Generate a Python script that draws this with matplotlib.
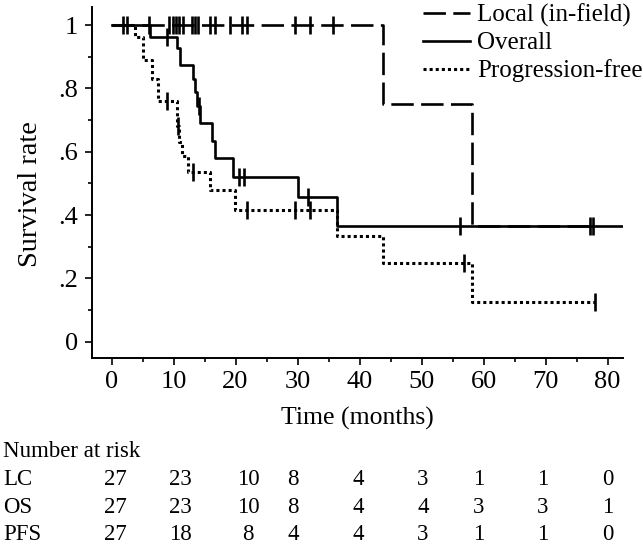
import numpy as np
import matplotlib
matplotlib.use("Agg")
import matplotlib.pyplot as plt
from matplotlib.ticker import MultipleLocator, FixedLocator, FixedFormatter

plt.rcParams['font.family'] = ['Liberation Serif', 'DejaVu Serif']

# ---------------- data ----------------
# Local (in-field) control
lc_times = [0, 43.8, 58.1, 77.7]
lc_surv = [1.0, 0.75, 0.366, 0.366]
lc_censor = [1.9, 2.5, 6.1, 9.2, 9.9, 10.4, 10.9, 11.5, 12.9, 13.5, 14.0,
             15.9, 16.7, 19.1, 21.0, 21.8, 29.6, 32.0, 35.8]

# Overall survival
os_times = [0, 6.2, 10.5, 11.0, 13.2, 13.5, 13.8, 14.3, 16.2, 16.7, 19.6,
            30.1, 36.3, 82.3]
os_surv = [1.0, 0.963, 0.926, 0.874, 0.83, 0.79, 0.745, 0.69, 0.635, 0.579,
           0.52, 0.458, 0.366, 0.366]
os_censor = [8.9, 14.1, 20.5, 21.3, 31.7, 56.2, 77.1, 77.7]

# Progression-free survival
pfs_times = [0, 3.8, 5.1, 6.5, 7.5, 10.5, 10.9, 11.3, 12.4, 15.9, 19.9,
             36.3, 43.8, 58.1, 78.0]
pfs_surv = [1.0, 0.963, 0.889, 0.83, 0.76, 0.68, 0.63, 0.586, 0.537, 0.479,
            0.417, 0.333, 0.25, 0.125, 0.125]
pfs_censor = [8.9, 10.8, 13.2, 21.8, 29.6, 32.0, 56.9, 78.0]

series_labels = ["Local (in-field)", "Overall", "Progression-free"]

x_ticks = [0, 10, 20, 30, 40, 50, 60, 70, 80]
y_ticks = [0, 0.2, 0.4, 0.6, 0.8, 1.0]
y_tick_labels = ["0", ".2", ".4", ".6", ".8", "1"]

risk_title = "Number at risk"
risk_rows = ["LC", "OS", "PFS"]
risk_lc = [27, 23, 10, 8, 4, 3, 1, 1, 0]
risk_os = [27, 23, 10, 8, 4, 4, 3, 3, 1]
risk_pfs = [27, 18, 8, 4, 4, 3, 1, 1, 0]

# ---------------- figure ----------------
W, H = 643, 545
fig = plt.figure(figsize=(W / 100, H / 100), dpi=100)
ax_l, ax_r, ax_t, ax_b = 92, 623, 6.7, 358
ax = fig.add_axes([ax_l / W, 1 - ax_b / H, (ax_r - ax_l) / W, (ax_b - ax_t) / H])

lw = 1.9


def surv_at(times, surv, t):
    idx = np.searchsorted(times, t, side='right') - 1
    return np.array(surv)[idx]


# curves
ax.step(lc_times, lc_surv, where='post', color='black', lw=lw,
        linestyle=(0, (8.5, 2.8)), label=series_labels[0], zorder=3)
ax.step(os_times, os_surv, where='post', color='black', lw=lw,
        linestyle='-', label=series_labels[1], zorder=4)
ax.step(pfs_times, pfs_surv, where='post', color='black', lw=lw + 0.3,
        linestyle=(0, (1, 1)), label=series_labels[2], zorder=3)

# censor marks
for times, surv, cens in [(lc_times, lc_surv, lc_censor),
                          (os_times, os_surv, os_censor),
                          (pfs_times, pfs_surv, pfs_censor)]:
    cy = [surv_at(times, surv, c) for c in cens]
    ax.plot(cens, cy, linestyle='none', marker='|', color='black',
            markersize=13, markeredgewidth=1.9, zorder=5)

ax.set_xlim(-3.15, 82.5)
ax.set_ylim(-0.0515, 1.058)

for s in ['top', 'right']:
    ax.spines[s].set_visible(False)
for s in ['left', 'bottom']:
    ax.spines[s].set_linewidth(1.4)

ax.xaxis.set_major_locator(FixedLocator(x_ticks))
ax.xaxis.set_minor_locator(MultipleLocator(5))
ax.yaxis.set_major_locator(FixedLocator(y_ticks))
ax.yaxis.set_major_formatter(FixedFormatter(y_tick_labels))
ax.yaxis.set_minor_locator(MultipleLocator(0.1))
ax.tick_params(which='major', length=5, width=1.2, labelsize=19, direction='out')
ax.tick_params(which='minor', length=3, width=1.2, direction='out')
ax.tick_params(axis='x', pad=4.5)
ax.tick_params(axis='y', pad=5)

ax.set_xlabel("Time (months)", fontsize=18.5)
ax.set_ylabel("Survival rate", fontsize=20.5)
ax.xaxis.set_label_coords(0.5, -0.138)
ax.yaxis.set_label_coords(-0.093, 0.468)

leg = ax.legend(loc='upper left', bbox_to_anchor=(423 / W, 1 - 3.5 / H),
                bbox_transform=fig.transFigure, frameon=False, fontsize=18,
                handlelength=1.88, handletextpad=0.28, labelspacing=0.2,
                borderpad=0.0, borderaxespad=0.0)

# number at risk table
col_x = [115, 180, 248, 293, 358, 423, 479, 543, 608]
row_base = [485, 513.3, 540]
fs_tab = 16.5
fig.text(3.3 / W, 1 - 456.7 / H, risk_title, fontsize=fs_tab, ha='left', va='baseline')
for r, (name, vals) in enumerate(zip(risk_rows, [risk_lc, risk_os, risk_pfs])):
    yb = 1 - row_base[r] / H
    fig.text(3.3 / W, yb, name, fontsize=fs_tab, ha='left', va='baseline')
    for cx, v in zip(col_x, vals):
        fig.text(cx / W, yb, str(v), fontsize=fs_tab, ha='center', va='baseline')

fig.savefig("out.png", dpi=100)
